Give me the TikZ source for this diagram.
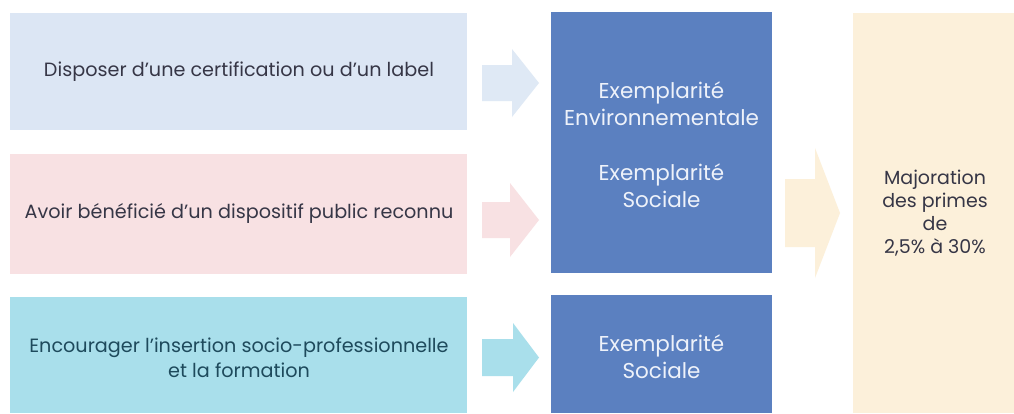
\documentclass[tikz,border=0pt]{standalone}
\usepackage{fontspec}
\setmainfont{Poppins}
\usetikzlibrary{calc}
\definecolor{cblue}{HTML}{DCE6F4}
\definecolor{cpink}{HTML}{F8E1E3}
\definecolor{ccyan}{HTML}{A9DFEB}
\definecolor{cdark}{HTML}{5B80C0}
\definecolor{cbeige}{HTML}{FCF0DA}
\definecolor{tdark}{HTML}{363646}
\definecolor{tteal}{HTML}{1E4A5C}
\definecolor{tlight}{HTML}{EEF2FA}
\tikzset{
  box/.style={rectangle, inner sep=0pt, align=center, font=\fontsize{19.2}{25}\selectfont, text=tdark},
  darkbox/.style={rectangle, inner sep=0pt, align=center, fill=cdark, text=tlight, font=\fontsize{21.5}{27}\selectfont},
  beigetext/.style={rectangle, inner sep=0pt, align=center, text=tdark, font=\fontsize{19}{23}\selectfont}
}
\newcommand{\blockarrow}[7]{% x0, xbase, xtip, ycenter, shaft half, head half, colour
  \fill[#7] (#1,#4-#5) -- (#2,#4-#5) -- (#2,#4-#6) -- (#3,#4) -- (#2,#4+#6) -- (#2,#4+#5) -- (#1,#4+#5) -- cycle;}
\begin{document}
\begin{tikzpicture}[x=1pt,y=-1pt]
\useasboundingbox (0,0) rectangle (1014,413);
\fill[white] (0,0) rectangle (1014,413);
% left boxes
\node[box, fill=cblue, minimum width=457pt, minimum height=117pt] (b1) at (238.5,71.5) {};
\node[box] (b1t) at (239,72) {Disposer d’une certification ou d’un label};
\node[box, fill=cpink, minimum width=457pt, minimum height=120pt] (b2) at (238.5,214) {};
\node[box] (b2t) at (239,213) {Avoir bénéficié d’un dispositif public reconnu};
\node[box, fill=ccyan, minimum width=457pt, minimum height=116pt] (b3) at (238.5,355) {};
\node[box, text=tteal] (b3t) at (239,357.5) {Encourager l’insertion socio-professionnelle\\et la formation};
% dark boxes
\node[darkbox, minimum width=221pt, minimum height=261pt] (d1) at (661.5,142.5) {};
\node[darkbox] (d1a) at (661.5,103.5) {Exemplarité\\Environnementale};
\node[darkbox] (d1b) at (661.5,185.5) {Exemplarité\\Sociale};
\node[darkbox, minimum width=221pt, minimum height=118pt] (d2) at (661.5,354) {};
\node[darkbox] (d2a) at (661.5,356.5) {Exemplarité\\Sociale};
% beige box
\node[box, fill=cbeige, minimum width=161pt, minimum height=400pt] (e) at (933.5,213) {};
\node[beigetext] (et) at (935,213) {Majoration\\des primes\\de\\2,5\% à 30\%};
% arrows
\blockarrow{482}{512}{539}{83}{18}{34}{cblue!90!white}
\blockarrow{482}{510}{539}{220}{18}{37}{cpink}
\blockarrow{482}{513}{539}{357.5}{18.5}{34.5}{ccyan}
\blockarrow{785}{815}{840}{213}{34}{65}{cbeige}
\end{tikzpicture}
\end{document}
